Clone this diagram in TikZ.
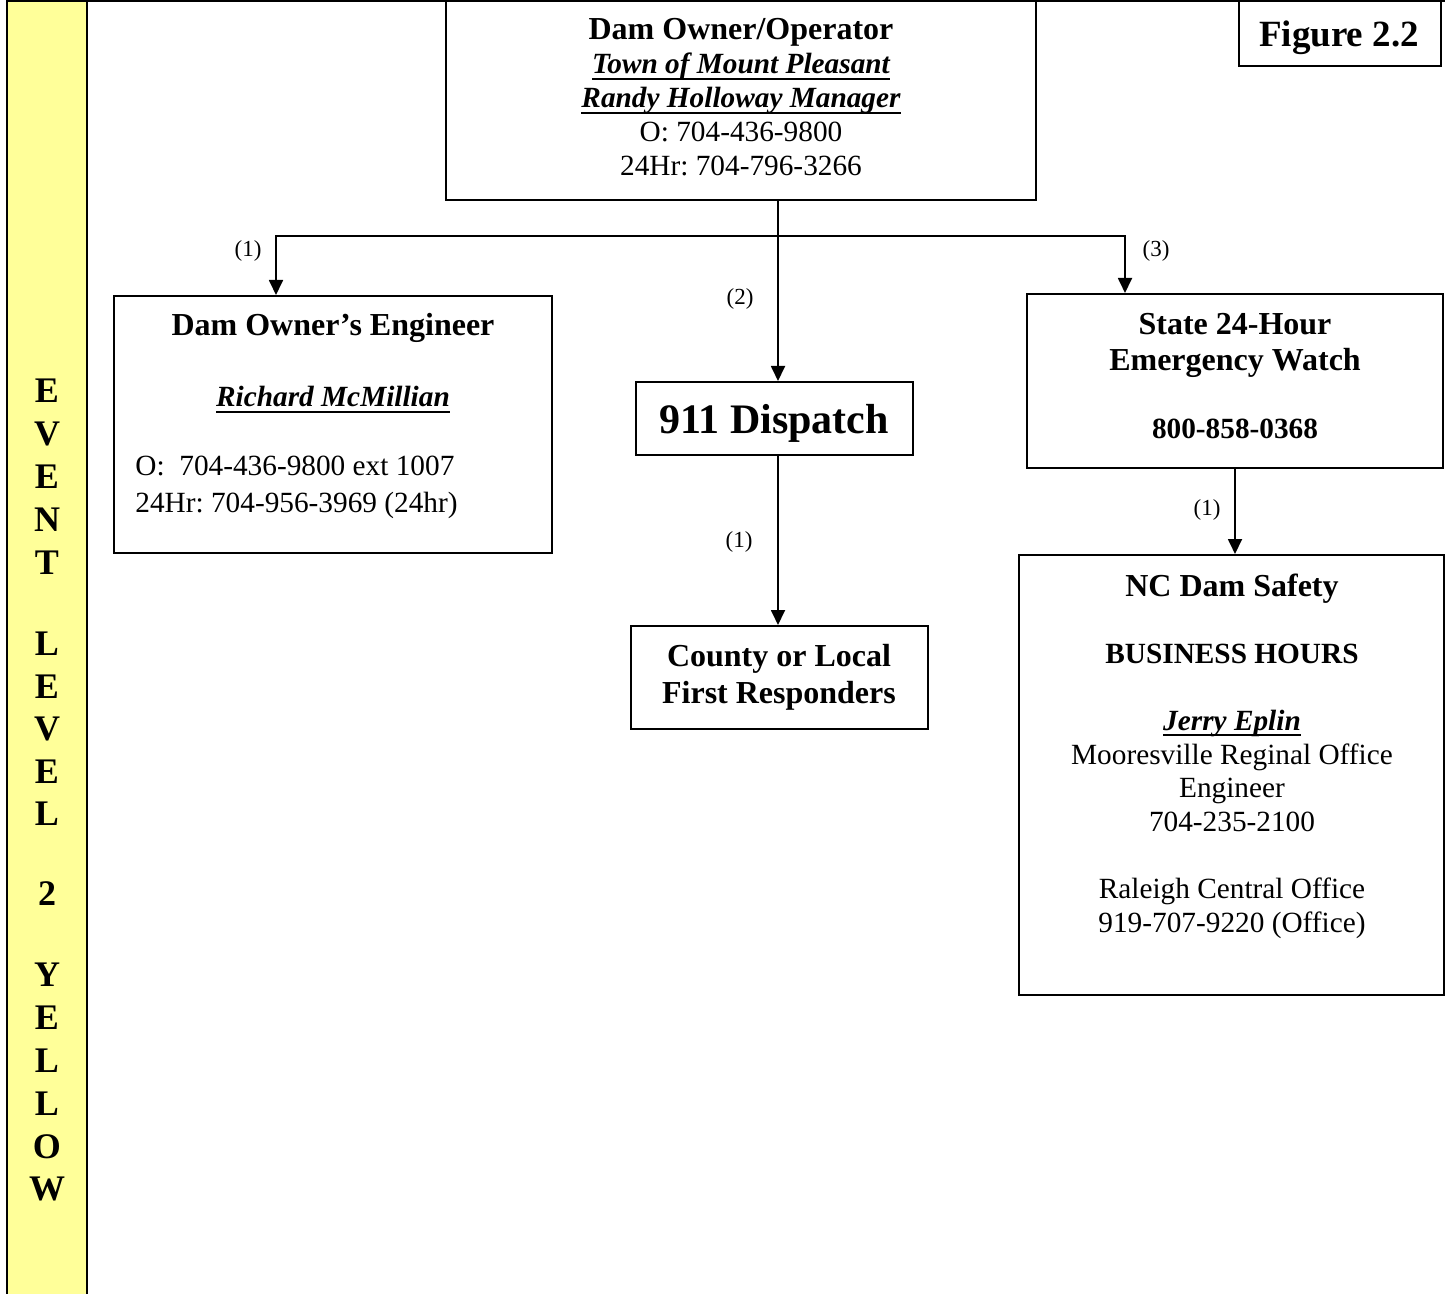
\documentclass[tikz,border=0pt]{standalone}
\usepackage{fontspec}
\setmainfont{Liberation Serif}
\usetikzlibrary{arrows.meta,fit}

\frenchspacing
\newsavebox{\ulbox}
\newcommand{\txtsize}{\fontsize{14.65}{17}\selectfont}
\newcommand{\hdsize}{\fontsize{16}{17}\selectfont}
\newcommand{\bul}[1]{\sbox{\ulbox}{\bfseries\itshape #1}\rlap{\rule[-2.9pt]{\wd\ulbox}{0.9pt}}\usebox{\ulbox}}
\definecolor{levelyellow}{HTML}{FFFF99}

\tikzset{
  box/.style={draw, line width=1pt, inner sep=0pt},
  conn/.style={line width=0.9pt},
  arr/.style={conn, -{Triangle[length=7.5pt,width=7pt]}},
  txt/.style={font=\txtsize, anchor=base, inner sep=0pt},
  hd/.style={font=\hdsize\bfseries, anchor=base, inner sep=0pt},
  lbl/.style={font=\fontsize{11.5}{13}\selectfont, anchor=base, inner sep=0pt},
  barltr/.style={font=\fontsize{18}{18}\selectfont\bfseries, anchor=base, inner sep=0pt}
}

\begin{document}
\begin{tikzpicture}[x=0.5pt,y=-0.5pt]
\useasboundingbox (0,0) rectangle (1445,1294);

% yellow side bar, one letter per line
\fill[levelyellow] (7,0) rectangle (87,1294);
\draw[line width=1.1pt] (7,0) -- (7,1294) (87,0) -- (87,1294);
\draw[line width=1.1pt] (7,1) -- (1445,1);
\foreach \ltr/\yy [count=\i] in {E/402,V/445,E/488,N/531,T/574,
    L/655,E/698,V/740,E/783,L/825,2/905,
    Y/986,E/1029,L/1072,L/1115,O/1158,W/1200}
  \node[barltr] (ltr\i) at (47,\yy) {\ltr};

% boxes
\node[box, fit={(446,1) (1036,200)}] (owner) {};
\node[box, fit={(1239,1) (1441,66)}] (fig) {};
\node[box, fit={(114,296) (552,553)}] (eng) {};
\node[box, fit={(636,382) (913,455)}] (disp) {};
\node[box, fit={(631,626) (928,729)}] (county) {};
\node[box, fit={(1027,294) (1443,468)}] (state) {};
\node[box, fit={(1019,555) (1444,995)}] (nc) {};

% texts in the boxes (multi-line nodes sit on their last baseline)
\node[txt, align=center] (ownertxt) at (741,176)
  {{\hdsize\bfseries Dam Owner/Operator}\\ \bul{Town of Mount Pleasant}\\
   \bul{Randy Holloway Manager}\\ O: 704-436-9800\\ 24Hr: 704-796-3266};
\node[anchor=base, inner sep=0pt, font=\fontsize{18.5}{20}\selectfont\bfseries] (figtxt) at (1339,47) {Figure 2.2};

\node[hd] (engtxt) at (333,336) {Dam Owner’s Engineer};
\node[txt] (engname) at (333,407) {\bul{Richard McMillian}};
\node[txt, anchor=base west, align=left, font=\fontsize{14.65}{18.5}\selectfont] (engtel) at (135,512)
  {O:\ \ 704-436-9800 ext 1007\\ 24Hr: 704-956-3969 (24hr)};

\node[anchor=base, inner sep=0pt, font=\fontsize{21}{24}\selectfont\bfseries] (disptxt) at (774,433) {911 Dispatch};
\node[hd, align=center, font=\fontsize{16}{18.5}\selectfont\bfseries] (countytxt) at (779,703)
  {County or Local\\ First Responders};

\node[hd, align=center, font=\fontsize{16}{17.5}\selectfont\bfseries] (statetxt) at (1235,438)
  {State 24-Hour\\ Emergency Watch\\[16.5pt] {\txtsize 800-858-0368}};
\node[txt, align=center, font=\fontsize{14.65}{16.8}\selectfont] (nctxt) at (1232,932)
  {{\hdsize\bfseries NC Dam Safety}\\[16.8pt] \textbf{BUSINESS HOURS}\\[16.8pt]
   \bul{Jerry Eplin}\\ Mooresville Reginal Office\\ Engineer\\ 704-235-2100\\[16.8pt]
   Raleigh Central Office\\ 919-707-9220 (Office)};

% connectors
\coordinate (bus) at (778,236);
\coordinate (busL) at (276,236);
\coordinate (busR) at (1125,236);
\draw[conn] (owner.south -| bus) -- (bus);
\draw[arr] (bus) -- (bus |- disp.north);
\draw[arr] (bus) -| (eng.north -| busL);
\draw[arr] (bus) -| (state.north -| busR);
\draw[arr] (disp.south -| bus) -- (county.north -| bus);
\draw[arr] (state.south) -- (nc.north -| state.south);

\node[lbl] (n1) at (248,257) {(1)};
\node[lbl] (n2) at (740,305) {(2)};
\node[lbl] (n3) at (1156,257) {(3)};
\node[lbl] (n4) at (739,547) {(1)};
\node[lbl] (n5) at (1207,515) {(1)};
\end{tikzpicture}
\end{document}
